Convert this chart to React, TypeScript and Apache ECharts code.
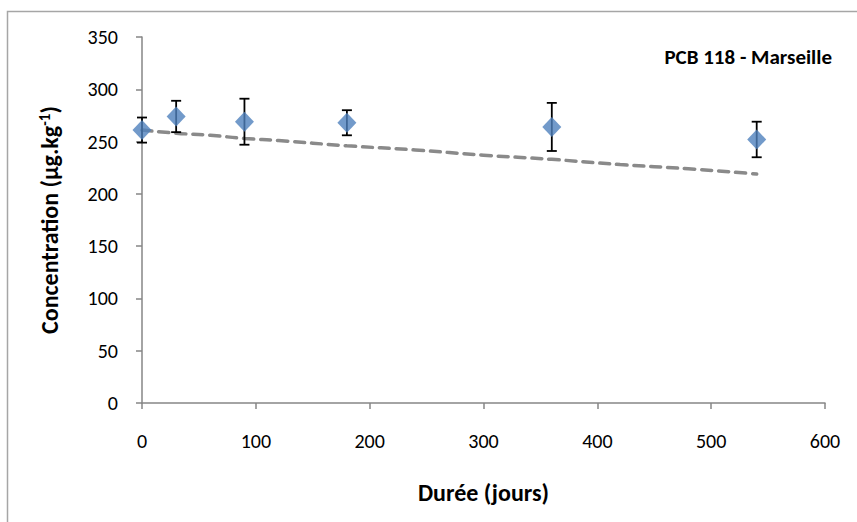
import React, { useEffect, useRef } from "react";
import * as echarts from "echarts";

const durations = [0, 30, 90, 180, 360, 540];
const concentrations = [261, 274, 269, 268, 264, 252];
const errors = [12, 15, 22, 12, 23, 17];
const trendX = [0, 30, 60, 90, 120, 180, 240, 300, 360, 420, 480, 540];
const trendY = [261, 258, 256, 253, 251, 246, 242, 237, 233, 228, 224, 219];
const xTicks = [0, 100, 200, 300, 400, 500, 600];
const yTicks = [0, 50, 100, 150, 200, 250, 300, 350];

const FONT = "Carlito, Lato, 'Open Sans', sans-serif";

export default function App() {
  const ref = useRef<HTMLDivElement>(null);
  useEffect(() => {
    if (!ref.current) return;
    const chart = echarts.init(ref.current, undefined, { renderer: "svg" });
    const axisLine = { show: true, lineStyle: { color: "#868686", width: 1.5 } };
    chart.setOption({
      animation: false,
      backgroundColor: "#fff",
      title: {
        text: "PCB 118 - Marseille",
        right: 20,
        top: 41,
        textStyle: { fontFamily: FONT, fontSize: 21, fontWeight: "bold", color: "#000" },
      },
      graphic: [
        {
          type: "rect",
          shape: { x: 7.5, y: 11.5, width: 900, height: 600 },
          style: { fill: "none", stroke: "#a6a6a6", lineWidth: 1.5 },
          silent: true,
        },
      ],
      grid: { left: 142, right: 32, top: 37, bottom: 119, containLabel: false },
      xAxis: {
        type: "value",
        min: xTicks[0],
        max: xTicks[xTicks.length - 1],
        interval: 100,
        splitLine: { show: false },
        axisLine,
        axisTick: { show: true, length: 6, lineStyle: { color: "#868686", width: 1.5 } },
        axisLabel: { fontFamily: FONT, fontSize: 20, color: "#000", margin: 28 },
        name: "Durée (jours)",
        nameLocation: "middle",
        nameGap: 77,
        nameTextStyle: { fontFamily: FONT, fontSize: 24, fontWeight: "bold", color: "#000" },
      },
      yAxis: {
        type: "value",
        min: yTicks[0],
        max: yTicks[yTicks.length - 1],
        interval: 50,
        splitLine: { show: false },
        axisLine,
        axisTick: { show: true, length: 6, lineStyle: { color: "#868686", width: 1.5 } },
        axisLabel: { fontFamily: FONT, fontSize: 20, color: "#000", margin: 24 },
        name: "{a|Concentration (µg.kg}{s|-1}{a|)}",
        nameLocation: "middle",
        nameGap: 80,
        nameRotate: 90,
        nameTextStyle: {
          fontFamily: FONT,
          fontSize: 24,
          fontWeight: "bold",
          color: "#000",
          rich: {
            a: { fontFamily: FONT, fontSize: 24, fontWeight: "bold", color: "#000" },
            s: { fontFamily: FONT, fontSize: 15, fontWeight: "bold", color: "#000", verticalAlign: "top", padding: [0, 0, 10, 0] },
          },
        },
      },
      series: [
        {
          type: "line",
          data: trendX.map((x, i) => [x, trendY[i]]),
          showSymbol: false,
          smooth: true,
          lineStyle: { color: "#8a8a8a", width: 3.5, type: [10, 7], cap: "round" },
          z: 2,
        },
        {
          type: "custom",
          data: durations.map((x, i) => [x, concentrations[i] - errors[i], concentrations[i] + errors[i]]),
          renderItem: (params: any, api: any) => {
            const x = api.value(0);
            const lo = api.coord([x, api.value(1)]);
            const hi = api.coord([x, api.value(2)]);
            const w = 5;
            const style = { stroke: "#000", lineWidth: 1.8 };
            return {
              type: "group",
              children: [
                { type: "line", shape: { x1: lo[0], y1: lo[1], x2: hi[0], y2: hi[1] }, style },
                { type: "line", shape: { x1: lo[0] - w, y1: lo[1], x2: lo[0] + w, y2: lo[1] }, style },
                { type: "line", shape: { x1: hi[0] - w, y1: hi[1], x2: hi[0] + w, y2: hi[1] }, style },
              ],
            };
          },
          z: 3,
        },
        {
          type: "scatter",
          data: durations.map((x, i) => [x, concentrations[i]]),
          symbol: "diamond",
          symbolSize: [19, 20],
          itemStyle: { color: "#4f81bd" },
          z: 4,
        },
      ],
    });
    return () => chart.dispose();
  }, []);
  return <div ref={ref} style={{ width: 857, height: 522, position: "absolute", left: 0, top: 0 }} />;
}
